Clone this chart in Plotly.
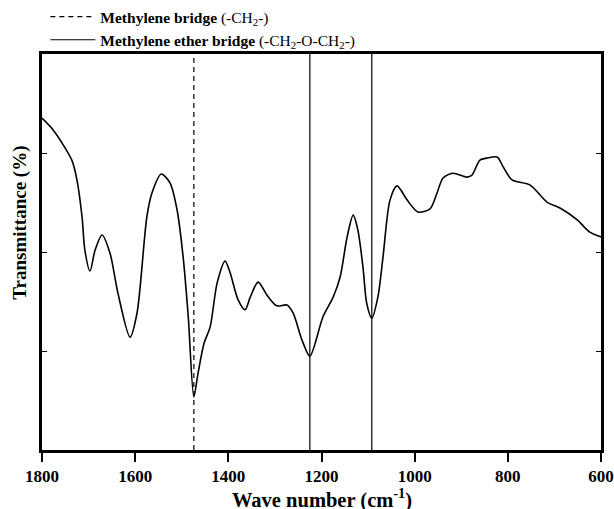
import plotly.graph_objects as go

# FTIR spectrum (wavenumber cm-1, transmittance arbitrary %)
wavenumber = [1800, 1776, 1736, 1725, 1714, 1708, 1697, 1686, 1671, 1654, 1637, 1611, 1596, 1575,
              1564, 1544, 1525, 1510, 1497, 1486, 1474, 1465, 1452, 1439, 1424, 1407, 1396, 1379,
              1364, 1353, 1336, 1317, 1296, 1274, 1261, 1242, 1225, 1197, 1175, 1160, 1145, 1132,
              1122, 1111, 1103, 1092, 1079, 1068, 1053, 1038, 1016, 993, 967, 952, 939, 918, 888,
              877, 860, 845, 823, 810, 791, 752, 716, 688, 651, 624, 600]
transmittance = [83.8, 80.8, 73.2, 68.2, 58.8, 50.5, 45.2, 50.5, 54.3, 49.7, 39.6, 28.5, 34.6, 58.8,
                 64.9, 69.7, 67.4, 60.6, 48.7, 33.6, 13.4, 19.4, 27.0, 31.1, 42.2, 47.7, 44.7, 37.9,
                 35.4, 38.6, 42.4, 39.1, 36.4, 36.6, 34.6, 27.8, 23.7, 33.6, 38.6, 43.7, 53.8, 59.3,
                 55.6, 46.2, 37.1, 33.3, 38.6, 48.7, 63.1, 66.7, 63.1, 60.1, 60.9, 64.9, 68.7, 69.9, 68.9,
                 69.4, 73.2, 73.7, 74.0, 71.5, 68.2, 66.9, 62.6, 61.1, 58.1, 55.0, 53.8]

methylene_bridge = [1474]
ether_bridge = [1225, 1092]
x_ticks = [1800, 1600, 1400, 1200, 1000, 800, 600]
y_range = [0, 100]

FONT = "Liberation Serif, Times New Roman, serif"

fig = go.Figure()
fig.add_trace(go.Scatter(x=wavenumber, y=transmittance, mode="lines",
                         line=dict(color="black", width=1.6, shape="spline", smoothing=0.8),
                         showlegend=False, hoverinfo="x+y"))

for i, wn in enumerate(methylene_bridge):
    fig.add_trace(go.Scatter(x=[wn, wn], y=y_range, mode="lines",
                             line=dict(color="black", width=1.2, dash="5px,4px"),
                             name="<b>Methylene bridge</b> (-CH<sub>2</sub>-)",
                             legendgroup="a", showlegend=(i == 0)))
for i, wn in enumerate(ether_bridge):
    fig.add_trace(go.Scatter(x=[wn, wn], y=y_range, mode="lines",
                             line=dict(color="black", width=1.2),
                             name="<b>Methylene ether bridge</b> (-CH<sub>2</sub>-O-CH<sub>2</sub>-)",
                             legendgroup="b", showlegend=(i == 0)))

fig.add_annotation(text="<b>Transmittance (%)</b>", textangle=-90, showarrow=False,
                   xref="paper", yref="paper", x=-0.04, y=0.573, xanchor="center", yanchor="middle",
                   font=dict(family=FONT, size=19, color="black"))
fig.add_annotation(text="<b>Wave number (cm<sup>-1</sup>)</b>", showarrow=False,
                   xref="paper", yref="paper", x=0.5, y=-0.083, xanchor="center", yanchor="top",
                   font=dict(family=FONT, size=20.5, color="black"))

fig.update_layout(
    width=614, height=509,
    margin=dict(l=42, r=13, t=54, b=59, autoexpand=False),
    paper_bgcolor="white", plot_bgcolor="white",
    font=dict(family=FONT, color="black"),
    legend=dict(x=0.006, y=1.006, xref="paper", yref="container", xanchor="left", yanchor="top",
                font=dict(family=FONT, size=15.5, color="black"),
                bgcolor="rgba(0,0,0,0)", tracegroupgap=0, itemwidth=45),
    xaxis=dict(range=[1800, 600], tickvals=x_ticks, ticks="outside", ticklen=9, tickwidth=2,
               tickcolor="black", showline=True, linewidth=2.5, linecolor="black", mirror=True,
               showgrid=False, zeroline=False, automargin=False,
               tickfont=dict(family=FONT, size=17, color="black", weight="bold")),
    yaxis=dict(range=y_range, tickvals=[25, 50, 75], ticks="inside", ticklen=5, tickwidth=1,
               tickcolor="black", showticklabels=False, showline=True, linewidth=2.5,
               linecolor="black", mirror="ticks", showgrid=False, zeroline=False, automargin=False),
)

fig.write_html("out.html", config={"displayModeBar": False},
               post_script="document.body.style.margin='0';")
